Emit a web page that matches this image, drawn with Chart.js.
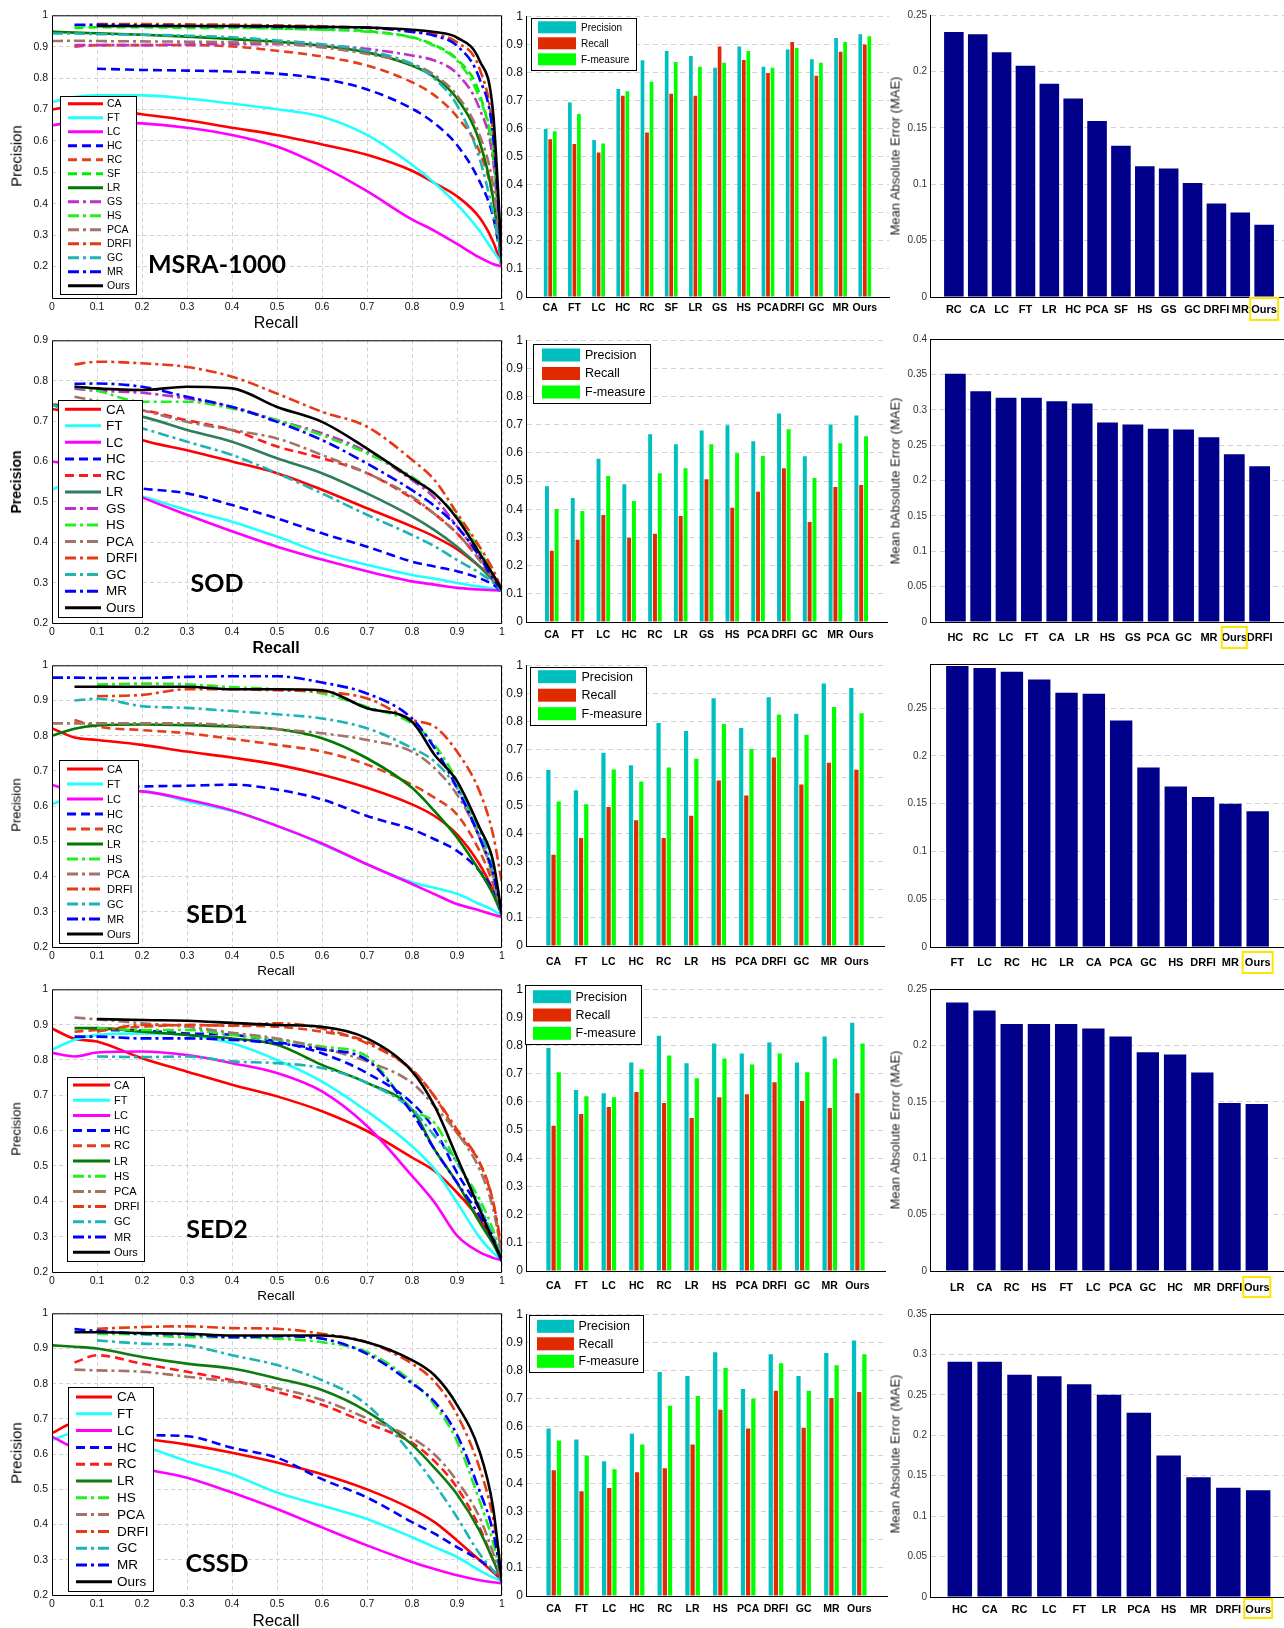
<!DOCTYPE html>
<html>
<head>
<meta charset="utf-8">
<script src="https://cdn.jsdelivr.net/npm/chart.js@4.4.1/dist/chart.umd.min.js"></script>
<style>
  html, body { margin: 0; padding: 0; width: 1284px; height: 1628px; overflow: hidden; background: #fff; }
  #page { position: relative; width: 1284px; height: 1628px; overflow: hidden; }
  #page canvas { position: absolute; }
  .lbl { position: absolute; font-family: "Liberation Sans", Arial, sans-serif; color: #000; white-space: nowrap; transform: translate(-50%, -50%); line-height: 1; }
  .rot { transform: translate(-50%, -50%) rotate(-90deg); }
  .big { font-family: Lato, "Open Sans", sans-serif; font-weight: bold; }
</style>
</head>
<body>
<div id="page"></div>
<script>
// ---- data ----
const recallGrid = [0, 0.05, 0.1, 0.2, 0.3, 0.4, 0.5, 0.6, 0.7, 0.8, 0.85, 0.9, 0.95, 0.98, 1];

const msraMethods = ["CA", "FT", "LC", "HC", "RC", "SF", "LR", "GS", "HS", "PCA", "DRFI", "GC", "MR", "Ours"];
const msraPR = [
  [0.70, 0.71, 0.705, 0.685, 0.666, 0.642, 0.619, 0.589, 0.556, 0.505, 0.466, 0.424, 0.356, 0.28, 0.2],     // CA
  [0.724, 0.74, 0.745, 0.745, 0.735, 0.719, 0.701, 0.677, 0.619, 0.524, 0.466, 0.398, 0.314, 0.25, 0.21],  // FT
  [0.65, 0.659, 0.66, 0.656, 0.642, 0.619, 0.582, 0.519, 0.44, 0.35, 0.314, 0.272, 0.229, 0.208, 0.2],     // LC
  [null, null, 0.83, 0.826, 0.824, 0.821, 0.814, 0.798, 0.764, 0.703, 0.656, 0.587, 0.472, 0.36, 0.21],   // HC
  [null, 0.9, 0.905, 0.905, 0.905, 0.901, 0.887, 0.869, 0.84, 0.787, 0.745, 0.677, 0.566, 0.42, 0.21],    // RC
  [null, 0.96, 0.962, 0.962, 0.96, 0.96, 0.958, 0.955, 0.95, 0.93, 0.905, 0.86, 0.75, 0.55, 0.21],        // SF
  [0.948, 0.945, 0.943, 0.938, 0.932, 0.924, 0.916, 0.903, 0.882, 0.84, 0.803, 0.735, 0.598, 0.42, 0.21], // LR
  [null, 0.905, 0.905, 0.905, 0.907, 0.908, 0.908, 0.905, 0.893, 0.872, 0.856, 0.814, 0.703, 0.54, 0.21], // GS
  [null, 0.965, 0.965, 0.965, 0.963, 0.962, 0.958, 0.954, 0.948, 0.929, 0.903, 0.856, 0.735, 0.57, 0.21], // HS
  [0.918, 0.919, 0.918, 0.917, 0.916, 0.914, 0.91, 0.898, 0.877, 0.845, 0.81, 0.745, 0.619, 0.46, 0.21],  // PCA
  [null, null, 0.972, 0.972, 0.971, 0.97, 0.968, 0.965, 0.96, 0.95, 0.94, 0.914, 0.83, 0.63, 0.21],       // DRFI
  [0.942, 0.942, 0.94, 0.938, 0.935, 0.93, 0.92, 0.908, 0.887, 0.845, 0.798, 0.714, 0.545, 0.37, 0.21],  // GC
  [null, 0.97, 0.97, 0.968, 0.966, 0.965, 0.963, 0.962, 0.961, 0.947, 0.935, 0.903, 0.798, 0.62, 0.21],   // MR
  [null, null, 0.966, 0.966, 0.966, 0.966, 0.965, 0.963, 0.961, 0.954, 0.947, 0.929, 0.856, 0.693, 0.21], // Ours
];

const sodMethods = ["CA", "FT", "LC", "HC", "RC", "LR", "GS", "HS", "PCA", "DRFI", "GC", "MR", "Ours"];
const sodPR = [
  [0.73, 0.72, 0.70, 0.653, 0.628, 0.60, 0.571, 0.53, 0.484, 0.439, 0.414, 0.383, 0.34, 0.31, 0.282],
  [0.53, 0.55, 0.54, 0.513, 0.48, 0.451, 0.414, 0.373, 0.344, 0.319, 0.31, 0.299, 0.29, 0.285, 0.28],
  [0.60, 0.59, 0.56, 0.511, 0.468, 0.427, 0.389, 0.357, 0.328, 0.303, 0.295, 0.287, 0.283, 0.281, 0.28],
  [null, 0.56, 0.55, 0.533, 0.521, 0.492, 0.459, 0.422, 0.389, 0.352, 0.34, 0.328, 0.311, 0.295, 0.278],
  [0.74, 0.74, 0.735, 0.727, 0.702, 0.678, 0.637, 0.608, 0.571, 0.509, 0.47, 0.422, 0.356, 0.31, 0.282],
  [0.74, 0.735, 0.725, 0.711, 0.678, 0.649, 0.608, 0.571, 0.521, 0.464, 0.43, 0.389, 0.34, 0.305, 0.282],
  [null, 0.78, 0.775, 0.77, 0.756, 0.735, 0.702, 0.67, 0.624, 0.554, 0.51, 0.439, 0.365, 0.31, 0.282],
  [null, 0.785, 0.775, 0.748, 0.748, 0.731, 0.702, 0.665, 0.62, 0.562, 0.52, 0.464, 0.381, 0.32, 0.282],
  [null, 0.76, 0.75, 0.727, 0.698, 0.678, 0.657, 0.616, 0.571, 0.513, 0.47, 0.422, 0.356, 0.31, 0.282],
  [null, 0.84, 0.847, 0.843, 0.834, 0.81, 0.768, 0.723, 0.686, 0.604, 0.554, 0.472, 0.389, 0.332, 0.282],
  [0.74, 0.72, 0.71, 0.682, 0.649, 0.616, 0.571, 0.521, 0.468, 0.418, 0.39, 0.356, 0.324, 0.3, 0.278],
  [null, 0.792, 0.793, 0.785, 0.76, 0.735, 0.698, 0.653, 0.595, 0.529, 0.49, 0.439, 0.365, 0.31, 0.282],
  [null, 0.785, 0.781, 0.777, 0.785, 0.781, 0.735, 0.698, 0.632, 0.558, 0.521, 0.459, 0.373, 0.32, 0.282],
];

const sedMethods = ["CA", "FT", "LC", "HC", "RC", "LR", "HS", "PCA", "DRFI", "GC", "MR", "Ours"];
const sed1PR = [
  [0.821, 0.795, 0.788, 0.774, 0.755, 0.738, 0.718, 0.689, 0.652, 0.605, 0.572, 0.52, 0.435, 0.36, 0.294],
  [0.605, 0.63, 0.64, 0.642, 0.614, 0.586, 0.544, 0.492, 0.435, 0.384, 0.368, 0.351, 0.322, 0.305, 0.289],
  [0.66, 0.645, 0.645, 0.642, 0.619, 0.588, 0.544, 0.494, 0.435, 0.379, 0.35, 0.322, 0.304, 0.292, 0.285],
  [null, 0.65, 0.652, 0.656, 0.658, 0.661, 0.647, 0.619, 0.572, 0.534, 0.506, 0.473, 0.416, 0.36, 0.29],
  [null, 0.845, 0.826, 0.816, 0.807, 0.791, 0.774, 0.755, 0.718, 0.661, 0.624, 0.576, 0.473, 0.38, 0.29],
  [0.80, 0.82, 0.829, 0.832, 0.83, 0.826, 0.819, 0.793, 0.736, 0.652, 0.586, 0.511, 0.416, 0.35, 0.29],
  [null, null, 0.945, 0.948, 0.946, 0.938, 0.932, 0.92, 0.882, 0.835, 0.774, 0.671, 0.511, 0.4, 0.29],
  [0.835, 0.835, 0.835, 0.835, 0.835, 0.829, 0.819, 0.807, 0.788, 0.755, 0.708, 0.633, 0.511, 0.4, 0.29],
  [null, null, 0.912, 0.916, 0.932, 0.932, 0.929, 0.925, 0.906, 0.845, 0.826, 0.755, 0.642, 0.52, 0.38],
  [null, 0.90, 0.905, 0.884, 0.879, 0.87, 0.861, 0.849, 0.821, 0.765, 0.727, 0.652, 0.529, 0.42, 0.29],
  [0.965, 0.965, 0.964, 0.964, 0.967, 0.969, 0.969, 0.951, 0.92, 0.849, 0.765, 0.652, 0.511, 0.41, 0.29],
  [null, 0.939, 0.939, 0.939, 0.939, 0.932, 0.932, 0.929, 0.878, 0.84, 0.746, 0.671, 0.539, 0.445, 0.29],
];

const sed2PR = [
  [0.889, 0.86, 0.852, 0.805, 0.767, 0.73, 0.697, 0.655, 0.599, 0.524, 0.486, 0.425, 0.35, 0.29, 0.238],
  [0.829, 0.857, 0.871, 0.875, 0.871, 0.847, 0.80, 0.739, 0.655, 0.556, 0.491, 0.397, 0.298, 0.255, 0.233],
  [0.82, 0.81, 0.821, 0.824, 0.814, 0.791, 0.763, 0.711, 0.613, 0.472, 0.397, 0.303, 0.256, 0.24, 0.233],
  [null, null, 0.885, 0.883, 0.875, 0.871, 0.852, 0.819, 0.763, 0.678, 0.603, 0.481, 0.378, 0.3, 0.23],
  [null, 0.88, 0.885, 0.894, 0.899, 0.897, 0.894, 0.88, 0.852, 0.772, 0.697, 0.594, 0.51, 0.4, 0.24],
  [null, 0.89, 0.89, 0.88, 0.871, 0.861, 0.843, 0.786, 0.735, 0.66, 0.547, 0.453, 0.341, 0.28, 0.23],
  [null, null, 0.89, 0.885, 0.885, 0.871, 0.857, 0.838, 0.81, 0.66, 0.622, 0.51, 0.406, 0.32, 0.24],
  [null, 0.92, 0.915, 0.904, 0.894, 0.877, 0.861, 0.833, 0.796, 0.735, 0.669, 0.594, 0.491, 0.38, 0.25],
  [null, null, 0.88, 0.899, 0.899, 0.897, 0.904, 0.889, 0.847, 0.772, 0.697, 0.603, 0.51, 0.4, 0.266],
  [null, null, 0.81, 0.808, 0.81, 0.796, 0.791, 0.777, 0.735, 0.66, 0.585, 0.51, 0.388, 0.3, 0.24],
  [null, 0.866, 0.866, 0.861, 0.861, 0.857, 0.847, 0.83, 0.80, 0.65, 0.547, 0.453, 0.36, 0.29, 0.23],
  [null, null, 0.916, 0.913, 0.911, 0.905, 0.899, 0.894, 0.861, 0.768, 0.67, 0.525, 0.378, 0.29, 0.235],
];

const cssdPR = [
  [0.66, 0.688, 0.674, 0.646, 0.627, 0.604, 0.576, 0.543, 0.50, 0.444, 0.407, 0.355, 0.299, 0.265, 0.242],
  [0.64, 0.66, 0.646, 0.623, 0.58, 0.543, 0.491, 0.454, 0.416, 0.364, 0.336, 0.308, 0.27, 0.25, 0.24],
  [0.65, 0.618, 0.605, 0.561, 0.533, 0.491, 0.444, 0.392, 0.341, 0.294, 0.274, 0.256, 0.242, 0.236, 0.233],
  [null, 0.70, 0.68, 0.655, 0.651, 0.618, 0.59, 0.529, 0.477, 0.407, 0.374, 0.336, 0.299, 0.27, 0.24],
  [null, 0.86, 0.881, 0.857, 0.834, 0.81, 0.777, 0.74, 0.688, 0.632, 0.58, 0.505, 0.392, 0.3, 0.24],
  [0.909, 0.905, 0.90, 0.876, 0.857, 0.843, 0.815, 0.782, 0.721, 0.627, 0.561, 0.486, 0.383, 0.3, 0.24],
  [null, null, 0.942, 0.94, 0.932, 0.932, 0.928, 0.918, 0.89, 0.806, 0.74, 0.637, 0.468, 0.35, 0.24],
  [null, 0.84, 0.838, 0.834, 0.82, 0.806, 0.787, 0.754, 0.702, 0.646, 0.599, 0.524, 0.421, 0.32, 0.24],
  [null, null, 0.956, 0.961, 0.963, 0.958, 0.956, 0.942, 0.918, 0.857, 0.806, 0.712, 0.561, 0.42, 0.26],
  [null, null, 0.923, 0.914, 0.909, 0.881, 0.853, 0.81, 0.74, 0.599, 0.515, 0.421, 0.317, 0.27, 0.24],
  [null, 0.955, 0.95, 0.942, 0.94, 0.932, 0.935, 0.928, 0.885, 0.801, 0.749, 0.655, 0.496, 0.38, 0.24],
  [null, 0.946, 0.946, 0.944, 0.942, 0.937, 0.937, 0.937, 0.918, 0.867, 0.824, 0.74, 0.608, 0.45, 0.235],
];

// precision / recall / F-measure bars (same method order as the PR legends)
const msraPrec = [0.598, 0.693, 0.559, 0.741, 0.843, 0.876, 0.858, 0.816, 0.892, 0.82, 0.881, 0.847, 0.922, 0.936];
const msraRec  = [0.562, 0.545, 0.515, 0.717, 0.586, 0.724, 0.717, 0.892, 0.844, 0.798, 0.908, 0.788, 0.873, 0.899];
const msraF    = [0.59, 0.652, 0.547, 0.733, 0.767, 0.837, 0.82, 0.834, 0.876, 0.816, 0.887, 0.834, 0.908, 0.929];

const sodPrec = [0.482, 0.44, 0.579, 0.489, 0.666, 0.631, 0.68, 0.698, 0.641, 0.74, 0.588, 0.701, 0.733];
const sodRec  = [0.253, 0.292, 0.38, 0.299, 0.313, 0.376, 0.507, 0.405, 0.462, 0.546, 0.355, 0.479, 0.486];
const sodF    = [0.401, 0.394, 0.518, 0.429, 0.528, 0.546, 0.631, 0.599, 0.589, 0.684, 0.511, 0.634, 0.659];

const sed1Prec = [0.627, 0.555, 0.688, 0.644, 0.794, 0.766, 0.882, 0.776, 0.886, 0.827, 0.935, 0.919];
const sed1Rec  = [0.325, 0.385, 0.495, 0.448, 0.385, 0.464, 0.589, 0.536, 0.671, 0.575, 0.653, 0.628];
const sed1F    = [0.515, 0.505, 0.629, 0.586, 0.636, 0.667, 0.791, 0.702, 0.824, 0.752, 0.851, 0.829];

const sed2Prec = [0.791, 0.642, 0.631, 0.74, 0.835, 0.737, 0.807, 0.772, 0.811, 0.74, 0.832, 0.881];
const sed2Rec  = [0.515, 0.557, 0.582, 0.635, 0.596, 0.543, 0.617, 0.627, 0.67, 0.603, 0.578, 0.631];
const sed2F    = [0.705, 0.62, 0.617, 0.716, 0.765, 0.684, 0.754, 0.733, 0.772, 0.705, 0.754, 0.807];

const cssdPrec = [0.594, 0.555, 0.478, 0.576, 0.795, 0.781, 0.865, 0.735, 0.858, 0.781, 0.862, 0.907];
const cssdRec  = [0.446, 0.372, 0.383, 0.439, 0.453, 0.538, 0.661, 0.594, 0.728, 0.597, 0.703, 0.724];
const cssdF    = [0.552, 0.499, 0.45, 0.538, 0.675, 0.71, 0.809, 0.70, 0.826, 0.728, 0.819, 0.858];

// mean absolute error, sorted as in each panel
const msraMaeNames = ["RC", "CA", "LC", "FT", "LR", "HC", "PCA", "SF", "HS", "GS", "GC", "DRFI", "MR", "Ours"];
const msraMae = [0.235, 0.233, 0.217, 0.205, 0.189, 0.176, 0.156, 0.134, 0.116, 0.114, 0.101, 0.083, 0.075, 0.064];
const sodMaeNames = ["HC", "RC", "LC", "FT", "CA", "LR", "HS", "GS", "PCA", "GC", "MR", "Ours", "DRFI"];
const sodMae = [0.351, 0.326, 0.317, 0.317, 0.312, 0.309, 0.282, 0.279, 0.273, 0.272, 0.261, 0.237, 0.22];
const sed1MaeNames = ["FT", "LC", "RC", "HC", "LR", "CA", "PCA", "GC", "HS", "DRFI", "MR", "Ours"];
const sed1Mae = [0.294, 0.292, 0.288, 0.28, 0.266, 0.265, 0.237, 0.188, 0.168, 0.157, 0.15, 0.142];
const sed2MaeNames = ["LR", "CA", "RC", "HS", "FT", "LC", "PCA", "GC", "HC", "MR", "DRFI", "Ours"];
const sed2Mae = [0.238, 0.231, 0.219, 0.219, 0.219, 0.215, 0.208, 0.194, 0.192, 0.176, 0.149, 0.148];
const cssdMaeNames = ["HC", "CA", "RC", "LC", "FT", "LR", "PCA", "HS", "MR", "DRFI", "Ours"];
const cssdMae = [0.291, 0.291, 0.275, 0.273, 0.263, 0.25, 0.228, 0.175, 0.148, 0.135, 0.132];

// ---- styles ----
const methodColor = {
  CA: "#ff0000", FT: "#22ffff", LC: "#ff00ff", HC: "#0000ff", RC: "#e4401c", SF: "#00ee00",
  LR: "#007a00", GS: "#c030c8", HS: "#22ee22", PCA: "#a27468", DRFI: "#e63a14", GC: "#1fb3b3",
  MR: "#0000ff", Ours: "#000000",
};
const methodDash = {
  CA: "solid", FT: "solid", LC: "solid", HC: "dash", RC: "dash", SF: "dash", LR: "solid",
  GS: "dashdot", HS: "dashdot", PCA: "dashdot", DRFI: "dashdot", GC: "dashdot", MR: "dashdot", Ours: "solid",
};
const dashes = { solid: [], dash: [9, 5], dashdot: [11, 4, 3, 4] };
const FONT = "'Liberation Sans', Arial, sans-serif";
const gridCol = "#d2d2d2";

const fmt = (v) => String(Math.round(v * 100) / 100);
const onStep = (v, step) => Math.abs(v / step - Math.round(v / step)) < 1e-6;

const page = document.getElementById("page");

function addCanvas(rect, pad) {
  const c = document.createElement("canvas");
  const w = rect.r - rect.l + pad.l + pad.r;
  const h = rect.b - rect.t + pad.t + pad.b;
  c.width = w;
  c.height = h;
  c.style.left = rect.l - pad.l + "px";
  c.style.top = rect.t - pad.t + "px";
  c.style.width = w + "px";
  c.style.height = h + "px";
  page.appendChild(c);
  return c;
}

function addText(text, x, y, size, extra) {
  const d = document.createElement("div");
  d.className = "lbl " + (extra || "");
  d.textContent = text;
  d.style.left = x + "px";
  d.style.top = y + "px";
  d.style.fontSize = size + "px";
  page.appendChild(d);
  return d;
}

// box around the plot or just the top line
const framePlugin = {
  id: "frame",
  afterDatasetsDraw(chart, args, o) {
    const a = chart.chartArea;
    const ctx = chart.ctx;
    ctx.save();
    ctx.strokeStyle = "#000";
    ctx.lineWidth = 1;
    ctx.beginPath();
    if (o.box) ctx.rect(a.left + 0.5, a.top + 0.5, a.right - a.left - 1, a.bottom - a.top);
    if (o.top) {
      ctx.moveTo(a.left, a.top + 0.5);
      ctx.lineTo(a.right, a.top + 0.5);
    }
    ctx.stroke();
    ctx.restore();
  },
};

// legend drawn inside the plot (line samples for PR, patches for bars)
const boxLegendPlugin = {
  id: "boxLegend",
  afterDatasetsDraw(chart, args, o) {
    if (!o.box) return;
    const ctx = chart.ctx;
    const [bx, by, bw, bh] = o.box;
    ctx.save();
    ctx.fillStyle = "#fff";
    ctx.fillRect(bx, by, bw, bh);
    ctx.strokeStyle = "#000";
    ctx.lineWidth = 1;
    ctx.strokeRect(Math.round(bx) + 0.5, Math.round(by) + 0.5, Math.round(bw), Math.round(bh));
    chart.data.datasets.forEach((ds, i) => {
      const y = o.row0 + i * o.step;
      if (o.patch) {
        ctx.fillStyle = ds.backgroundColor;
        ctx.fillRect(o.x0, y - o.ph / 2, o.x1 - o.x0, o.ph);
      } else {
        ctx.beginPath();
        ctx.setLineDash(ds.borderDash || []);
        ctx.strokeStyle = ds.borderColor;
        ctx.lineWidth = 3;
        ctx.moveTo(o.x0, y);
        ctx.lineTo(o.x1, y);
        ctx.stroke();
        ctx.setLineDash([]);
      }
      ctx.fillStyle = "#000";
      ctx.font = o.font + "px " + FONT;
      ctx.textBaseline = "middle";
      ctx.fillText(ds.label, o.tx, y + 0.5);
    });
    ctx.restore();
  },
};

// yellow box around one tick label
const tickBoxPlugin = {
  id: "tickBox",
  afterDraw(chart, args, o) {
    if (!o.label) return;
    const xs = chart.scales.x;
    const idx = chart.data.labels.indexOf(o.label);
    const cx = xs.getPixelForValue(idx);
    const ctx = chart.ctx;
    ctx.save();
    ctx.strokeStyle = "#ffe600";
    ctx.lineWidth = 2;
    ctx.strokeRect(cx - o.w / 2, chart.chartArea.bottom + o.dy, o.w, o.h);
    ctx.restore();
  },
};

// convert page coordinates of a legend into canvas coordinates
function toCanvas(lg, ox, oy) {
  return {
    box: [lg.box[0] - ox, lg.box[1] - oy, lg.box[2], lg.box[3]],
    row0: lg.row0 - oy, step: lg.step, x0: lg.x0 - ox, x1: lg.x1 - ox, tx: lg.tx - ox,
    font: lg.font, patch: lg.patch, ph: lg.ph,
  };
}

function prChart(row) {
  const pad = { l: 40, r: 6, t: 8, b: 18 };
  const rect = row.prRect;
  const c = addCanvas(rect, pad);
  const n = row.methods.length;
  const datasets = row.methods.map((m, i) => ({
    label: m,
    data: recallGrid.map((r, k) => ({ x: r, y: row.pr[i][k] })),
    borderColor: (row.colors && row.colors[m]) || methodColor[m],
    borderDash: dashes[methodDash[m]],
    borderWidth: 2.6,
    pointRadius: 0,
    cubicInterpolationMode: "monotone",
    order: n - i,
  }));
  new Chart(c, {
    type: "line",
    data: { datasets },
    options: {
      responsive: false,
      animation: false,
      events: [],
      layout: { padding: { left: 0, right: pad.r, top: pad.t, bottom: 0 } },
      plugins: {
        legend: { display: false },
        tooltip: { enabled: false },
        frame: { box: true },
        boxLegend: toCanvas(row.prLegend, rect.l - pad.l, rect.t - pad.t),
      },
      scales: {
        x: {
          type: "linear", min: 0, max: 1,
          ticks: { stepSize: 0.1, callback: fmt, font: { family: FONT, size: 10.5 }, color: "#111", padding: 3, maxRotation: 0, autoSkip: false },
          grid: { color: gridCol, drawTicks: false },
          border: { display: false, dash: [4, 3] },
          afterFit: (s) => { s.height = pad.b; },
        },
        y: {
          type: "linear", min: row.yMin, max: row.yMax,
          ticks: {
            stepSize: 0.1,
            callback: (v) => (row.yMin < 0.15 && v < 0.15 ? "" : fmt(v)),
            font: { family: FONT, size: 10.5 }, color: "#111", padding: 4,
          },
          grid: { color: gridCol, drawTicks: false },
          border: { display: false, dash: [4, 3] },
          afterFit: (s) => { s.width = pad.l; },
        },
      },
    },
    plugins: [framePlugin, boxLegendPlugin],
  });
}

function prfChart(row) {
  const pad = { l: 24, r: 4, t: 8, b: 30 };
  const rect = row.barRect;
  const c = addCanvas(rect, pad);
  const labels = ["", ...row.methods, ""];
  new Chart(c, {
    type: "bar",
    data: {
      labels,
      datasets: [
        { label: "Precision", data: [null, ...row.prec, null], backgroundColor: "#00bfbf" },
        { label: "Recall", data: [null, ...row.rec, null], backgroundColor: "#e02a00" },
        { label: "F-measure", data: [null, ...row.fm, null], backgroundColor: "#00ff00" },
      ],
    },
    options: {
      responsive: false,
      animation: false,
      events: [],
      categoryPercentage: 0.56,
      barPercentage: 0.82,
      layout: { padding: { left: 0, right: pad.r, top: pad.t, bottom: 0 } },
      plugins: {
        legend: { display: false },
        tooltip: { enabled: false },
        boxLegend: toCanvas(row.barLegend, rect.l - pad.l, rect.t - pad.t),
      },
      scales: {
        x: {
          type: "category", offset: false,
          ticks: { font: { family: FONT, size: 10.5, weight: "bold" }, color: "#000", padding: row.barTickPad, maxRotation: 0, autoSkip: false },
          grid: { display: false, drawTicks: false },
          border: { display: true, color: "#000", width: 1 },
          afterFit: (s) => { s.height = pad.b; },
        },
        y: {
          min: 0, max: 1,
          ticks: { stepSize: 0.1, callback: fmt, font: { family: FONT, size: 12 }, color: "#111", padding: 3 },
          grid: { color: gridCol, drawTicks: false },
          border: { display: true, color: "#000", width: 1, dash: [5, 4] },
          afterFit: (s) => { s.width = pad.l; },
        },
      },
    },
    plugins: [boxLegendPlugin],
  });
}

function maeChart(row) {
  const pad = { l: 30, r: 4, t: 8, b: 30 };
  const rect = row.maeRect;
  const c = addCanvas(rect, pad);
  const labels = ["", ...row.maeNames, ""];
  new Chart(c, {
    type: "bar",
    data: {
      labels,
      datasets: [{ label: "MAE", data: [null, ...row.mae, null], backgroundColor: "#00008b" }],
    },
    options: {
      responsive: false,
      animation: false,
      events: [],
      categoryPercentage: 0.82,
      barPercentage: 1,
      layout: { padding: { left: 0, right: pad.r, top: pad.t, bottom: 0 } },
      plugins: {
        legend: { display: false },
        tooltip: { enabled: false },
        frame: { top: row.maeTop },
        tickBox: row.maeBox,
      },
      scales: {
        x: {
          type: "category", offset: false,
          ticks: { font: { family: FONT, size: 11, weight: "bold" }, color: "#000", padding: row.maeTickPad, maxRotation: 0, autoSkip: false },
          grid: { display: false, drawTicks: false },
          border: { display: true, color: "#000", width: 1 },
          afterFit: (s) => { s.height = pad.b; },
        },
        y: {
          min: 0, max: row.maeMax,
          ticks: { stepSize: 0.05, callback: (v) => (onStep(v, 0.05) ? fmt(v) : ""), font: { family: FONT, size: 10 }, color: "#333", padding: 3 },
          grid: { color: gridCol, drawTicks: false },
          border: { display: true, color: "#000", width: 1, dash: [5, 4] },
          afterFit: (s) => { s.width = pad.l; },
        },
      },
    },
    plugins: [framePlugin, tickBoxPlugin],
  });
}

// ---- layout of the five rows ----
const rows = [
  {
    name: "MSRA-1000", nameY: 263, methods: msraMethods, pr: msraPR, yMin: 0.1, yMax: 1,
    prRect: { l: 52, r: 502, t: 13, b: 298 },
    prLegend: { box: [60, 96, 76, 198], row0: 103.7, step: 14.0, x0: 68, x1: 103, tx: 107, font: 10.5 },
    precY: 156, precSize: 15, precBold: false, recY: 323, recSize: 16,
    prec: msraPrec, rec: msraRec, fm: msraF, barTickPad: 5,
    barRect: { l: 526, r: 890, t: 14, b: 297 },
    barLegend: { box: [531, 18, 105, 52], row0: 27.3, step: 16, x0: 538, x1: 576, tx: 581, font: 10, patch: true, ph: 12 },
    maeNames: msraMaeNames, mae: msraMae, maeMax: 0.25, maeTop: false, maeTickPad: 6,
    maeRect: { l: 930, r: 1290, t: 14, b: 297 },
    maeBox: { label: "Ours", w: 28, dy: 1, h: 22 },
    maeTitle: "Mean Absolute Error (MAE)", maeTitleY: 156,
  },
  {
    name: "SOD", nameY: 582, methods: sodMethods, pr: sodPR, yMin: 0.2, yMax: 0.9,
    colors: { RC: "#ff1a1a", LR: "#2e7d5b" },
    prRect: { l: 52, r: 502, t: 338, b: 623 },
    prLegend: { box: [58, 400, 84, 217], row0: 409.3, step: 16.53, x0: 65, x1: 101, tx: 106, font: 13.5 },
    precY: 482, precSize: 14, precBold: true, recY: 648, recSize: 16, recBold: true,
    prec: sodPrec, rec: sodRec, fm: sodF, barTickPad: 7,
    barRect: { l: 526, r: 890, t: 338, b: 622 },
    barLegend: { box: [533, 344, 117, 59], row0: 355, step: 18.5, x0: 542, x1: 580, tx: 585, font: 12.5, patch: true, ph: 13 },
    maeNames: sodMaeNames, mae: sodMae, maeMax: 0.4, maeTop: true, maeTickPad: 9,
    maeRect: { l: 930, r: 1290, t: 338, b: 622 },
    maeBox: { label: "Ours", w: 25, dy: 5, h: 21 },
    maeTitle: "Mean bAbsolute Error (MAE)", maeTitleY: 481,
  },
  {
    name: "SED1", nameY: 913, methods: sedMethods, pr: sed1PR, yMin: 0.2, yMax: 1,
    prRect: { l: 52, r: 502, t: 663, b: 947 },
    prLegend: { box: [59, 760, 79, 183], row0: 769, step: 15, x0: 67, x1: 103, tx: 107, font: 11 },
    precY: 805, precSize: 13, precBold: false, recY: 971, recSize: 13.5,
    prec: sed1Prec, rec: sed1Rec, fm: sed1F, barTickPad: 10,
    barRect: { l: 526, r: 890, t: 663, b: 946 },
    barLegend: { box: [530, 667, 116, 58], row0: 676.7, step: 18.5, x0: 538, x1: 576, tx: 581.5, font: 12.5, patch: true, ph: 13 },
    maeNames: sed1MaeNames, mae: sed1Mae, maeMax: 0.2962, maeTop: true, maeTickPad: 9,
    maeRect: { l: 930, r: 1290, t: 663, b: 947 },
    maeBox: { label: "Ours", w: 30, dy: 5, h: 21 },
    maeTitle: "", maeTitleY: 0,
  },
  {
    name: "SED2", nameY: 1228, methods: sedMethods, pr: sed2PR, yMin: 0.2, yMax: 1,
    prRect: { l: 52, r: 502, t: 987, b: 1272 },
    prLegend: { box: [67, 1077, 77, 184], row0: 1085, step: 15.2, x0: 73, x1: 110, tx: 114, font: 11 },
    precY: 1129, precSize: 13, precBold: false, recY: 1296, recSize: 13.5,
    prec: sed2Prec, rec: sed2Rec, fm: sed2F, barTickPad: 9,
    barRect: { l: 526, r: 890, t: 987, b: 1271 },
    barLegend: { box: [525, 985, 116, 59], row0: 996.7, step: 18.3, x0: 533, x1: 571, tx: 575.5, font: 12.5, patch: true, ph: 13 },
    maeNames: sed2MaeNames, mae: sed2Mae, maeMax: 0.25, maeTop: true, maeTickPad: 10,
    maeRect: { l: 930, r: 1290, t: 988, b: 1271 },
    maeBox: { label: "Ours", w: 27, dy: 6, h: 20 },
    maeTitle: "Mean Absolute Error (MAE)", maeTitleY: 1130,
  },
  {
    name: "CSSD", nameY: 1562, methods: sedMethods, pr: cssdPR, yMin: 0.2, yMax: 1,
    colors: { RC: "#ff1a1a", LR: "#0f7a0f" },
    prRect: { l: 52, r: 502, t: 1311, b: 1595 },
    prLegend: { box: [68, 1387, 85, 204], row0: 1397, step: 16.8, x0: 76, x1: 112, tx: 117, font: 13.5 },
    precY: 1453, precSize: 15, precBold: false, recY: 1620, recSize: 17,
    prec: cssdPrec, rec: cssdRec, fm: cssdF, barTickPad: 7,
    barRect: { l: 526, r: 890, t: 1312, b: 1596 },
    barLegend: { box: [529, 1315, 114, 57], row0: 1326.3, step: 17.5, x0: 537, x1: 574, tx: 578.5, font: 12.5, patch: true, ph: 13 },
    maeNames: cssdMaeNames, mae: cssdMae, maeMax: 0.35, maeTop: true, maeTickPad: 6,
    maeRect: { l: 930, r: 1290, t: 1313, b: 1597 },
    maeBox: { label: "Ours", w: 28, dy: 2, h: 19 },
    maeTitle: "Mean Absolute Error (MAE)", maeTitleY: 1454,
  },
];

rows.forEach((row) => {
  prChart(row);
  prfChart(row);
  maeChart(row);
  addText(row.name, 217, row.nameY, 25, "big");
  const p = addText("Precision", 16, row.precY, row.precSize, "rot");
  if (row.precBold) p.style.fontWeight = "bold";
  const r = addText("Recall", 276, row.recY, row.recSize);
  if (row.recBold) r.style.fontWeight = "bold";
  if (row.maeTitle) {
    const t = addText(row.maeTitle, 895, row.maeTitleY, 13, "rot");
    t.style.color = "#222";
  }
});
</script>
</body>
</html>
